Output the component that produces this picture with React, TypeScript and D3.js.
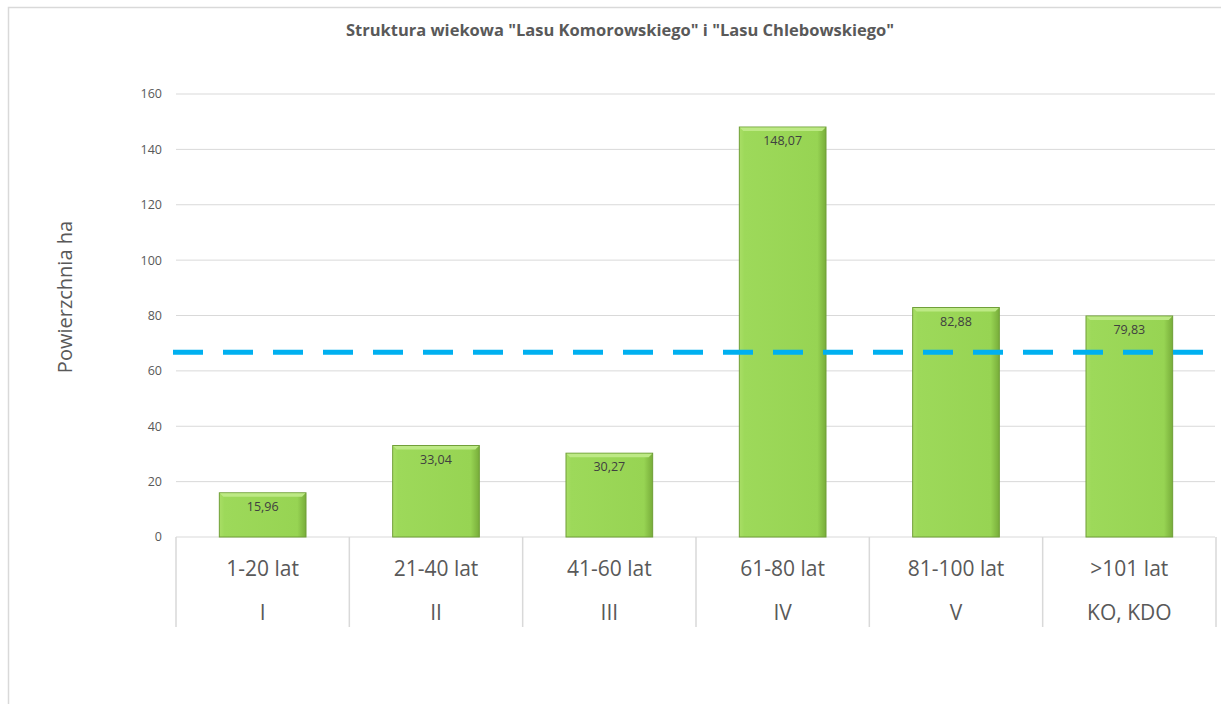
import React, { useRef, useEffect } from 'react';
import * as d3 from 'd3';

const ageRanges = ['1-20 lat', '21-40 lat', '41-60 lat', '61-80 lat', '81-100 lat', '>101 lat'];
const ageClasses = ['I', 'II', 'III', 'IV', 'V', 'KO, KDO'];
const areaValues = [15.96, 33.04, 30.27, 148.07, 82.88, 79.83];
const referenceLevel = 66.7;
const yTicks = [0, 20, 40, 60, 80, 100, 120, 140, 160];

const W = 1221;
const H = 704;
const FONT = '"Open Sans", "DejaVu Sans", sans-serif';

const App = () => {
  const ref = useRef<SVGSVGElement>(null);

  useEffect(() => {
    const svg = d3.select(ref.current);
    svg.selectAll('*').remove();

    const left = 176;
    const right = 1216;
    const top = 94;
    const bottom = 537;

    const x = d3.scaleBand<number>()
      .domain(d3.range(ageRanges.length))
      .range([left, right])
      .paddingInner(0.5)
      .paddingOuter(0.25);

    const band = d3.scaleBand<number>()
      .domain(d3.range(ageRanges.length))
      .range([left, right]);

    const y = d3.scaleLinear().domain([0, 160]).range([bottom, top]);

    const defs = svg.append('defs');
    const grad = defs.append('linearGradient')
      .attr('id', 'barGrad')
      .attr('x1', '0').attr('x2', '1').attr('y1', '0').attr('y2', '0');
    grad.append('stop').attr('offset', '0%').attr('stop-color', '#a9de66');
    grad.append('stop').attr('offset', '6%').attr('stop-color', '#9dd95a');
    grad.append('stop').attr('offset', '90%').attr('stop-color', '#97d453');
    grad.append('stop').attr('offset', '100%').attr('stop-color', '#78ad3a');

    // outer chart border
    svg.append('rect')
      .attr('x', 8.5).attr('y', 7.5)
      .attr('width', W + 20).attr('height', H + 20)
      .attr('fill', '#fff')
      .attr('stroke', '#d9d9d9')
      .attr('stroke-width', 1.5);

    // title
    svg.append('text')
      .attr('x', 620).attr('y', 36)
      .attr('text-anchor', 'middle')
      .style('font-family', FONT)
      .style('font-size', '16.5px')
      .style('font-weight', 'bold')
      .attr('fill', '#595959')
      .text('Struktura wiekowa "Lasu Komorowskiego" i "Lasu Chlebowskiego"');

    // gridlines
    svg.append('g')
      .selectAll('line')
      .data(yTicks)
      .enter().append('line')
      .attr('x1', left).attr('x2', right - 1)
      .attr('y1', d => y(d)).attr('y2', d => y(d))
      .attr('stroke', '#d9d9d9')
      .attr('stroke-width', 1);

    // y tick labels
    svg.append('g')
      .selectAll('text')
      .data(yTicks)
      .enter().append('text')
      .attr('x', 162).attr('y', d => y(d))
      .attr('dy', '0.35em')
      .attr('text-anchor', 'end')
      .style('font-family', FONT)
      .style('font-size', '12.5px')
      .attr('fill', '#595959')
      .text(d => d);

    // y axis title
    svg.append('text')
      .attr('transform', `translate(72, 297) rotate(-90)`)
      .attr('text-anchor', 'middle')
      .style('font-family', FONT)
      .style('font-size', '20px')
      .attr('fill', '#595959')
      .text('Powierzchnia ha');

    // category separators
    const seps = d3.range(ageRanges.length + 1).map(i => left + i * band.step());
    svg.append('g')
      .selectAll('line')
      .data(seps)
      .enter().append('line')
      .attr('x1', d => d).attr('x2', d => d)
      .attr('y1', bottom).attr('y2', 627)
      .attr('stroke', '#d9d9d9')
      .attr('stroke-width', 1.5);

    // category labels
    const catG = svg.append('g')
      .style('font-family', FONT)
      .style('font-size', '21px')
      .attr('fill', '#595959')
      .attr('text-anchor', 'middle');

    catG.selectAll('.range')
      .data(ageRanges)
      .enter().append('text')
      .attr('class', 'range')
      .attr('x', (d, i) => (band(i) as number) + band.bandwidth() / 2)
      .attr('y', 576)
      .text(d => d);

    catG.selectAll('.cls')
      .data(ageClasses)
      .enter().append('text')
      .attr('class', 'cls')
      .attr('x', (d, i) => (band(i) as number) + band.bandwidth() / 2)
      .attr('y', 620)
      .text(d => d);

    // bars
    const bars = svg.append('g')
      .selectAll('g')
      .data(areaValues)
      .enter().append('g');

    bars.append('rect')
      .attr('x', (d, i) => x(i) as number)
      .attr('y', d => y(d))
      .attr('width', x.bandwidth())
      .attr('height', d => bottom - y(d))
      .attr('fill', 'url(#barGrad)')
      .attr('stroke', '#6f9e37')
      .attr('stroke-width', 1);

    // bevel highlight at the top
    bars.append('path')
      .attr('d', (d, i) => {
        const x0 = x(i) as number;
        const x1 = x0 + x.bandwidth();
        const y0 = y(d);
        return `M${x0 + 0.5},${y0 + 0.5} L${x1 - 0.5},${y0 + 0.5} L${x1 - 4},${y0 + 4} L${x0 + 4},${y0 + 4} Z`;
      })
      .attr('fill', '#bde985');

    bars.append('text')
      .attr('x', (d, i) => (x(i) as number) + x.bandwidth() / 2)
      .attr('y', d => y(d) + 18)
      .attr('text-anchor', 'middle')
      .style('font-family', FONT)
      .style('font-size', '12.5px')
      .attr('fill', '#404040')
      .text(d => d3.format('.2f')(d).replace('.', ','));

    // reference dashed line
    svg.append('line')
      .attr('x1', 173).attr('x2', 1205)
      .attr('y1', y(referenceLevel)).attr('y2', y(referenceLevel))
      .attr('stroke', '#00b0f0')
      .attr('stroke-width', 5)
      .attr('stroke-dasharray', '30 20');
  }, []);

  return (
    <svg
      ref={ref}
      width={W}
      height={H}
      style={{ position: 'absolute', left: 0, top: 0, background: '#fff' }}
    ></svg>
  );
};

export default App;
